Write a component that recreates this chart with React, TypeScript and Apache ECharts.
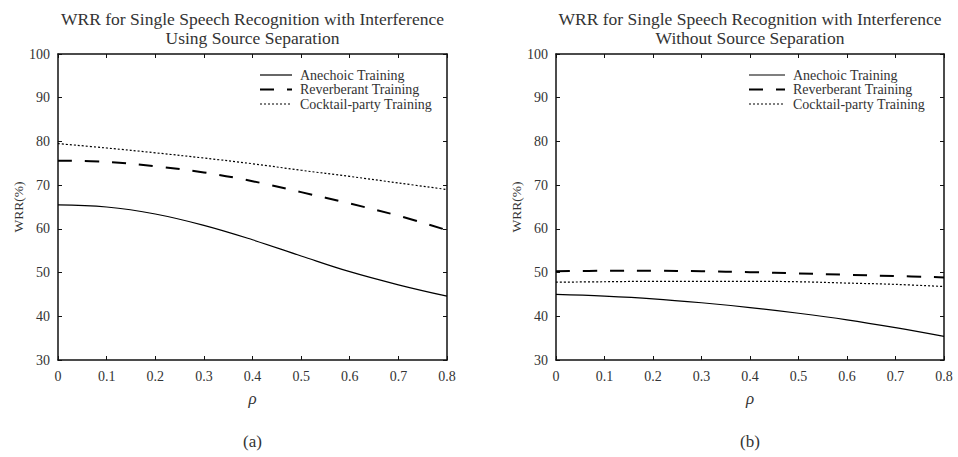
import React, { useEffect, useRef } from "react";
import * as echarts from "echarts";

const rho = [0, 0.1, 0.2, 0.3, 0.4, 0.5, 0.6, 0.7, 0.8];
const seriesNames = ["Anechoic Training", "Reverberant Training", "Cocktail-party Training"];
const anechoicA = [65.5, 65.0, 63.4, 60.8, 57.5, 53.8, 50.2, 47.2, 44.6];
const reverbA = [75.6, 75.3, 74.3, 72.9, 70.9, 68.4, 65.8, 63.0, 59.7];
const cocktailA = [79.5, 78.5, 77.4, 76.2, 74.9, 73.4, 72.0, 70.5, 69.0];
const anechoicB = [45.0, 44.6, 44.0, 43.1, 42.0, 40.7, 39.2, 37.4, 35.4];
const reverbB = [50.3, 50.4, 50.4, 50.3, 50.1, 49.8, 49.5, 49.2, 48.9];
const cocktailB = [47.8, 47.9, 48.0, 48.0, 48.0, 47.9, 47.6, 47.3, 46.8];
const titlesA = ["WRR for Single Speech Recognition with Interference", "Using Source Separation"];
const titlesB = ["WRR for Single Speech Recognition with Interference", "Without Source Separation"];
const panelLabels = ["(a)", "(b)"];
const yTitle = "WRR(%)";
const xTitle = "ρ";

const FONT = "'Liberation Serif', 'DejaVu Serif', serif";
const TXT = "#333";

export default function App() {
  const ref = useRef<HTMLDivElement>(null);
  useEffect(() => {
    document.body.style.margin = "0";
    const chart = echarts.init(ref.current!, undefined, { renderer: "svg" });
    const grids = [
      { left: 58, top: 54, width: 389, height: 306 },
      { left: 556, top: 54, width: 388, height: 306 },
    ];
    const centers = grids.map((g) => g.left + g.width / 2);
    const xAxes: any[] = [];
    const yAxes: any[] = [];
    grids.forEach((_, i) => {
      const base = {
        gridIndex: i,
        type: "value",
        min: 0,
        max: 0.8,
        interval: 0.1,
        axisLine: { show: true, onZero: false, lineStyle: { color: "#111", width: 1.5 } },
        axisTick: { show: true, inside: true, length: 4, lineStyle: { color: "#111" } },
        splitLine: { show: false },
      };
      xAxes.push({
        ...base,
        position: "bottom",
        name: xTitle,
        nameLocation: "middle",
        nameGap: 30,
        nameTextStyle: { fontFamily: FONT, fontSize: 17, fontStyle: "italic", color: TXT },
        axisLabel: { fontFamily: FONT, fontSize: 14, color: TXT, margin: 9 },
      });
      xAxes.push({ ...base, position: "top", axisLabel: { show: false } });
      const ybase = {
        gridIndex: i,
        type: "value",
        min: 30,
        max: 100,
        interval: 10,
        axisLine: { show: true, onZero: false, lineStyle: { color: "#111", width: 1.5 } },
        axisTick: { show: true, inside: true, length: 4, lineStyle: { color: "#111" } },
        splitLine: { show: false },
      };
      yAxes.push({
        ...ybase,
        position: "left",
        name: yTitle,
        nameLocation: "middle",
        nameGap: 33,
        nameTextStyle: { fontFamily: FONT, fontSize: 13.5, color: TXT },
        axisLabel: { fontFamily: FONT, fontSize: 14, color: TXT, margin: 8 },
      });
      yAxes.push({ ...ybase, position: "right", axisLabel: { show: false } });
    });
    const styles = [
      { type: "solid", width: 1.2 },
      { type: [14, 13], width: 2 },
      { type: [2, 2], width: 1.2 },
    ];
    const dashes: any[] = [null, [14, 13], [2, 2]];
    const dataSets = [
      [anechoicA, reverbA, cocktailA],
      [anechoicB, reverbB, cocktailB],
    ];
    const series: any[] = [];
    dataSets.forEach((set, gi) => {
      set.forEach((vals, si) => {
        series.push({
          type: "line",
          name: seriesNames[si],
          xAxisIndex: gi * 2,
          yAxisIndex: gi * 2,
          data: rho.map((r, k) => [r, vals[k]]),
          smooth: 0.4,
          symbol: "none",
          lineStyle: { color: "#000", ...styles[si] },
          itemStyle: { color: "#000" },
        });
      });
    });
    const legendPos = [
      { x: 260, y: 75, len: 32 },
      { x: 749, y: 75, len: 36 },
    ];
    const graphic: any[] = [];
    legendPos.forEach((p) => {
      seriesNames.forEach((n, si) => {
        const y = p.y + si * 14.5;
        graphic.push({
          type: "line",
          shape: { x1: p.x, y1: y, x2: p.x + p.len, y2: y },
          style: { stroke: "#000", lineWidth: styles[si].width, lineDash: dashes[si] },
        });
        graphic.push({
          type: "text",
          x: p.x + p.len + 8,
          y,
          style: { text: n, fontFamily: FONT, fontSize: 14, fill: TXT, verticalAlign: "middle" },
        });
      });
    });
    panelLabels.forEach((t, i) =>
      graphic.push({
        type: "text",
        x: centers[i],
        y: 441,
        style: { text: t, fontFamily: FONT, fontSize: 17, fill: TXT, align: "center", verticalAlign: "middle" },
      })
    );
    const titleStyle = { fontFamily: FONT, fontSize: 17.5, fontWeight: "normal", color: TXT, lineHeight: 19 };
    chart.setOption({
      animation: false,
      backgroundColor: "#fff",
      grid: grids,
      xAxis: xAxes,
      yAxis: yAxes,
      series,
      title: [
        { text: titlesA.join("\n"), left: centers[0] - 5, top: 4, textAlign: "center", textStyle: titleStyle },
        { text: titlesB.join("\n"), left: centers[1] - 5, top: 4, textAlign: "center", textStyle: titleStyle },
      ],
      graphic,
    });
    return () => chart.dispose();
  }, []);
  return <div ref={ref} style={{ width: 958, height: 457 }} />;
}
